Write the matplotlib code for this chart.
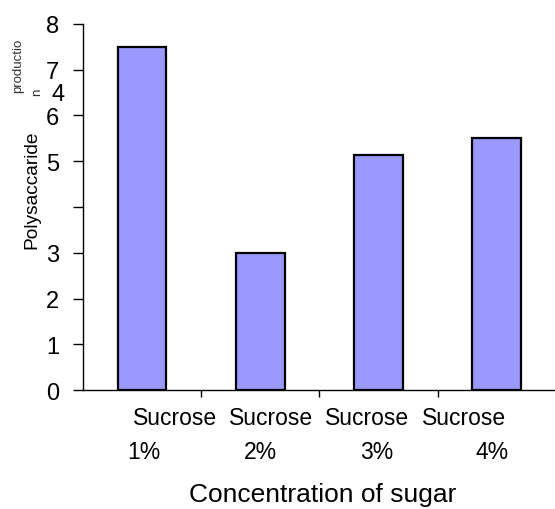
import matplotlib
matplotlib.use("Agg")
import matplotlib.pyplot as plt

plt.rcParams["font.family"] = ["Liberation Sans", "DejaVu Sans"]

# Data
sugar_names = ["Sucrose", "Sucrose", "Sucrose", "Sucrose"]
sugar_levels = ["1%", "2%", "3%", "4%"]
polysaccharide = [7.5, 3.0, 5.13, 5.5]
y_ticks = [0, 1, 2, 3, 4, 5, 6, 7, 8]
y_tick_labels = ["0", "1", "2", "3", "", "5", "6", "7", "8"]
stray_label = "4"


def make_chart():
    """
    Draw the polysaccharide-by-sugar bar chart
    """
    fig = plt.figure(figsize=(5.55, 5.1), dpi=100)
    ax = fig.add_axes([0.1495, 0.2333, 0.852, 0.7177])

    x = list(range(len(polysaccharide)))
    ax.bar(x, polysaccharide, width=0.41, color="#9999FF",
           edgecolor="black", linewidth=1.6, zorder=3)

    ax.set_xlim(-0.5, len(x) - 0.5)
    ax.set_ylim(0, 8)
    ax.set_yticks(y_ticks)
    ax.set_yticklabels(y_tick_labels, fontsize=17)
    ax.tick_params(axis="y", length=7, width=1, pad=10, direction="out")

    # x ticks sit between the categories, labels are drawn by hand
    ax.set_xticks([i + 0.5 for i in x[:-1]])
    ax.set_xticklabels([])
    ax.tick_params(axis="x", length=5, width=1, direction="out")

    for side in ["top", "right"]:
        ax.spines[side].set_visible(False)
    for side in ["left", "bottom"]:
        ax.spines[side].set_linewidth(1)

    tr = ax.get_xaxis_transform()
    for i in x:
        ax.text(0.278 + 0.814 * i, -0.074, sugar_names[i], transform=tr,
                ha="center", va="center", fontsize=16.5)
        ax.text(0.015 + 0.983 * i, -0.167, sugar_levels[i], transform=tr,
                ha="center", va="center", fontsize=16.5)

    # misplaced "4" tick label near the top
    ax.text(-0.0385, 6.47, stray_label, transform=ax.get_yaxis_transform(),
            ha="right", va="center", fontsize=17, clip_on=False)

    fig.text(32 / 555, 1 - 190 / 510, "Polysaccaride", rotation=90,
             ha="center", va="center", fontsize=13.8)
    fig.text(18 / 555, 1 - 66 / 510, "productio", rotation=90,
             ha="center", va="center", fontsize=9.5, color="#333333")
    fig.text(37 / 555, 1 - 92 / 510, "n", rotation=90,
             ha="center", va="center", fontsize=9.5, color="#333333")

    fig.text(322.5 / 555, 1 - 495 / 510, "Concentration of sugar",
             ha="center", va="center", fontsize=19)

    fig.savefig("out.png", dpi=100, facecolor="white")


if __name__ == "__main__":
    make_chart()
